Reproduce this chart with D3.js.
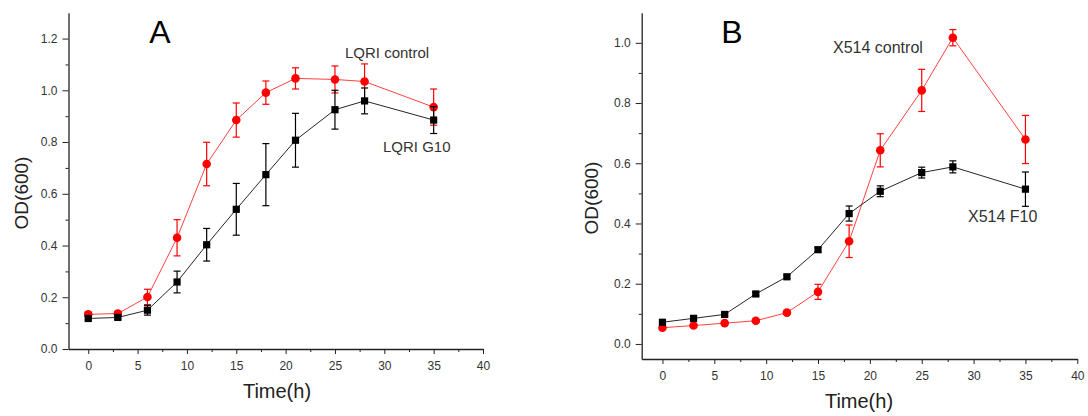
<!DOCTYPE html>
<html>
<head>
<meta charset="utf-8">
<script src="https://cdn.jsdelivr.net/npm/d3@7/dist/d3.min.js"></script>
<style>
  html, body { margin: 0; padding: 0; background: #fff; }
  svg { display: block; font-family: Arial, "Liberation Sans", sans-serif; }
</style>
</head>
<body>
<svg id="chart" width="1088" height="416"></svg>
<script>
// Sampling times (h)
const times = [0, 3, 6, 9, 12, 15, 18, 21, 25, 28, 35];

// Panel A: LQRI strain
const aControl    = [0.134, 0.137, 0.201, 0.430, 0.715, 0.885, 0.991, 1.046, 1.042, 1.034, 0.935];
const aControlErr = [0.008, 0.008, 0.030, 0.070, 0.084, 0.066, 0.045, 0.041, 0.052, 0.068, 0.070];
const aG10        = [0.118, 0.122, 0.150, 0.259, 0.403, 0.540, 0.674, 0.807, 0.925, 0.959, 0.885];
const aG10Err     = [0.006, 0.006, 0.019, 0.042, 0.063, 0.100, 0.120, 0.104, 0.075, 0.050, 0.052];

// Panel B: X514 strain
const bControl    = [0.054, 0.061, 0.069, 0.077, 0.104, 0.173, 0.341, 0.643, 0.842, 1.017, 0.679];
const bControlErr = [0.005, 0.005, 0.005, 0.005, 0.006, 0.025, 0.054, 0.055, 0.070, 0.027, 0.080];
const bF10        = [0.072, 0.085, 0.098, 0.166, 0.223, 0.313, 0.433, 0.507, 0.569, 0.588, 0.514];
const bF10Err     = [0.005, 0.005, 0.005, 0.006, 0.006, 0.007, 0.025, 0.018, 0.018, 0.020, 0.057];

// Tick values
const xMajor = [0, 5, 10, 15, 20, 25, 30, 35, 40];
const xMinor = [2.5, 7.5, 12.5, 17.5, 22.5, 27.5, 32.5, 37.5];
const aYMajor = [0.0, 0.2, 0.4, 0.6, 0.8, 1.0, 1.2];
const aYMinor = [0.1, 0.3, 0.5, 0.7, 0.9, 1.1];
const bYMajor = [0.0, 0.2, 0.4, 0.6, 0.8, 1.0];
const bYMinor = [0.1, 0.3, 0.5, 0.7, 0.9];

const RED = "#ff0000";
const BLACK = "#000000";
const svg = d3.select("#chart");

function panel(cfg) {
  const x = d3.scaleLinear().domain([-2, 40]).range([cfg.left, cfg.right]);
  const y = d3.scaleLinear().domain(cfg.yDomain).range([cfg.bottom, cfg.top]);
  const g = svg.append("g");

  // minor ticks
  g.append("g").attr("transform", `translate(0,${cfg.bottom})`)
    .call(d3.axisBottom(x).tickValues(xMinor).tickSize(3).tickSizeOuter(0).tickFormat(""))
    .call(s => s.select(".domain").remove());
  g.append("g").attr("transform", `translate(${cfg.left},0)`)
    .call(d3.axisLeft(y).tickValues(cfg.yMinor).tickSize(3).tickSizeOuter(0).tickFormat(""))
    .call(s => s.select(".domain").remove());

  // major ticks + labels
  const xa = g.append("g").attr("transform", `translate(0,${cfg.bottom})`)
    .call(d3.axisBottom(x).tickValues(xMajor).tickSize(5).tickSizeOuter(0).tickPadding(cfg.xPad).tickFormat(d3.format("d")));
  const ya = g.append("g").attr("transform", `translate(${cfg.left},0)`)
    .call(d3.axisLeft(y).tickValues(cfg.yMajor).tickSize(6).tickSizeOuter(0).tickPadding(5).tickFormat(d3.format(".1f")));

  g.selectAll(".tick line").attr("stroke", "#222").attr("stroke-width", 1);
  g.selectAll(".domain").attr("stroke", "#222").attr("stroke-width", 1.3);
  g.selectAll(".tick text").attr("fill", "#333").style("font-size", "12px")
    .style("font-family", "Arial, 'Liberation Sans', sans-serif");

  const series = [
    { vals: cfg.ctrl, err: cfg.ctrlErr, color: RED, shape: "circle" },
    { vals: cfg.mut, err: cfg.mutErr, color: BLACK, shape: "square" }
  ];

  const line = d3.line().x((d, i) => x(times[i])).y(d => y(d));

  series.forEach(s => {
    const sg = g.append("g");
    sg.append("path").datum(s.vals).attr("d", line)
      .attr("fill", "none").attr("stroke", s.color).attr("stroke-width", 1)
      .attr("stroke-opacity", s.color === RED ? 0.75 : 0.85);

    const pts = s.vals.map((v, i) => ({ t: times[i], v, e: s.err[i] }));
    const eb = sg.selectAll(".eb").data(pts).enter().append("g");
    eb.append("line")
      .attr("x1", d => x(d.t)).attr("x2", d => x(d.t))
      .attr("y1", d => y(d.v - d.e)).attr("y2", d => y(d.v + d.e))
      .attr("stroke", s.color).attr("stroke-width", 1.2);
    [-1, 1].forEach(sign => {
      eb.append("line")
        .attr("x1", d => x(d.t) - 3.5).attr("x2", d => x(d.t) + 3.5)
        .attr("y1", d => y(d.v + sign * d.e)).attr("y2", d => y(d.v + sign * d.e))
        .attr("stroke", s.color).attr("stroke-width", 1.2);
    });

    if (s.shape === "circle") {
      sg.selectAll(".mk").data(pts).enter().append("circle")
        .attr("cx", d => x(d.t)).attr("cy", d => y(d.v)).attr("r", 4.3)
        .attr("fill", s.color);
    } else {
      sg.selectAll(".mk").data(pts).enter().append("rect")
        .attr("x", d => x(d.t) - 3.6).attr("y", d => y(d.v) - 3.6)
        .attr("width", 7.2).attr("height", 7.2).attr("fill", s.color);
    }
  });

  // panel letter
  g.append("text").attr("x", cfg.letterX).attr("y", 43).attr("text-anchor", "middle")
    .style("font-size", "32px").attr("fill", "#000").text(cfg.letter);

  // series labels
  cfg.labels.forEach(l => {
    g.append("text").attr("x", l.x).attr("y", l.y).style("font-size", cfg.labelSize + "px")
      .attr("fill", "#333").text(l.text);
  });

  // axis titles
  g.append("text").attr("transform", `translate(${cfg.yTitleX},${cfg.yTitleY}) rotate(-90)`)
    .attr("text-anchor", "middle").style("font-size", "19px").attr("fill", "#222").text("OD(600)");
  g.append("text").attr("x", cfg.xTitleX).attr("y", cfg.xTitleY).attr("text-anchor", "middle")
    .style("font-size", "20px").attr("fill", "#222").text("Time(h)");
}

panel({
  left: 68.5, right: 483, top: 12.7, bottom: 349, yDomain: [0, 1.3],
  yMajor: aYMajor, yMinor: aYMinor, xPad: 7,
  ctrl: aControl, ctrlErr: aControlErr, mut: aG10, mutErr: aG10Err,
  letter: "A", letterX: 160, labelSize: 15,
  labels: [{ text: "LQRI control", x: 345, y: 58 }, { text: "LQRI G10", x: 383, y: 152 }],
  yTitleX: 28, yTitleY: 193, xTitleX: 277, xTitleY: 398
});

panel({
  left: 641.7, right: 1077.3, top: 12.7, bottom: 359, yDomain: [-0.05, 1.1],
  yMajor: bYMajor, yMinor: bYMinor, xPad: 7,
  ctrl: bControl, ctrlErr: bControlErr, mut: bF10, mutErr: bF10Err,
  letter: "B", letterX: 732, labelSize: 16,
  labels: [{ text: "X514 control", x: 833, y: 53 }, { text: "X514 F10", x: 968, y: 222 }],
  yTitleX: 598, yTitleY: 198, xTitleX: 859, xTitleY: 408
});
</script>
</body>
</html>
